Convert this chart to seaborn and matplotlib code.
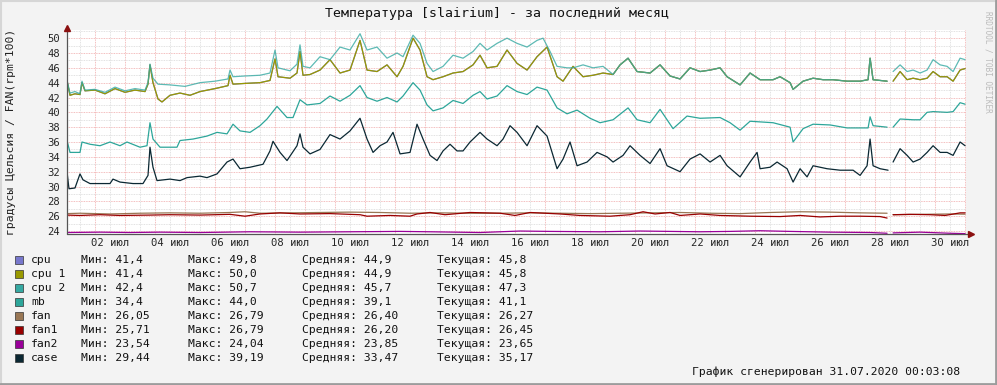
import numpy as np
import pandas as pd
import matplotlib
matplotlib.use("Agg")
import matplotlib.pyplot as plt
from matplotlib.patches import Rectangle
from matplotlib.lines import Line2D
import seaborn as sns

sns.set_theme(style="white")
plt.rcParams['font.family'] = ['DejaVu Sans Mono', 'DejaVu Sans']

# Data: (day of July, value); nan = gap in data
NAN = float('nan')

cpu2 = [(0.567, 44.3), (0.667, 42.6), (0.833, 42.8), (1.0, 42.5), (1.067, 44.2), (1.167, 43.0),
        (1.5, 43.1), (1.833, 42.7), (2.167, 43.4), (2.5, 42.9), (2.833, 43.2), (3.167, 43.0),
        (3.267, 44.0), (3.333, 46.5), (3.433, 44.6), (3.6, 43.8), (4.0, 43.7), (4.5, 43.5),
        (5.0, 44.0), (5.5, 44.2), (5.933, 44.5), (6.0, 45.7), (6.1, 44.8), (6.5, 44.9),
        (7.0, 45.0), (7.333, 45.3), (7.5, 48.4), (7.6, 46.0), (8.0, 45.6), (8.233, 46.5),
        (8.333, 49.1), (8.433, 46.2), (8.667, 46.0), (9.0, 47.5), (9.333, 47.1), (9.667, 48.8),
        (10.0, 48.4), (10.333, 50.6), (10.567, 48.4), (10.9, 48.8), (11.233, 47.3), (11.567, 48.0),
        (11.767, 47.5), (12.1, 50.4), (12.333, 49.3), (12.567, 46.6), (12.767, 45.5), (13.1, 46.2),
        (13.433, 47.7), (13.767, 47.3), (14.1, 48.2), (14.333, 49.3), (14.567, 48.4), (14.9, 49.3),
        (15.233, 50.0), (15.567, 49.3), (15.9, 48.8), (16.233, 49.7), (16.433, 50.0), (16.667, 48.2),
        (16.9, 46.2), (17.233, 46.0), (17.433, 46.0), (17.767, 46.4), (18.1, 46.0), (18.433, 46.2),
        (18.767, 45.1), (19.0, 46.4), (19.267, 47.3), (19.567, 45.5), (20.0, 45.3), (20.333, 46.4),
        (20.667, 44.9), (21.0, 44.5), (21.333, 46.0), (21.667, 45.5), (22.0, 45.7), (22.333, 46.0),
        (22.567, 44.8), (23.0, 43.7), (23.333, 45.3), (23.667, 44.4), (24.1, 44.4), (24.333, 44.8),
        (24.667, 44.0), (24.767, 43.1), (25.1, 44.2), (25.433, 44.6), (25.767, 44.4), (26.1, 44.4),
        (26.567, 44.2), (27.0, 44.2), (27.267, 44.4), (27.333, 47.3), (27.433, 44.4), (27.9, 44.2),
        (28.0, NAN), (28.1, 45.5), (28.333, 46.4), (28.567, 45.5), (28.767, 45.7), (29.0, 45.3),
        (29.233, 45.7), (29.433, 47.1), (29.667, 46.4), (29.9, 46.2), (30.1, 45.5), (30.333, 47.3),
        (30.5, 47.1)]

cpu1 = [(0.567, 44.3), (0.667, 42.3), (0.833, 42.5), (1.0, 42.4), (1.067, 44.0), (1.167, 42.9),
        (1.5, 43.0), (1.833, 42.5), (2.167, 43.2), (2.5, 42.7), (2.833, 43.0), (3.167, 42.8),
        (3.267, 43.8), (3.333, 46.4), (3.433, 44.0), (3.6, 41.8), (3.733, 41.4), (4.0, 42.3),
        (4.333, 42.6), (4.667, 42.3), (5.0, 42.8), (5.5, 43.2), (5.933, 43.6), (6.0, 45.0),
        (6.1, 43.8), (6.5, 43.9), (7.0, 44.0), (7.333, 44.3), (7.5, 47.2), (7.6, 44.8),
        (8.0, 44.6), (8.233, 45.3), (8.333, 48.2), (8.433, 45.0), (8.667, 45.1), (9.0, 45.7),
        (9.333, 47.1), (9.667, 45.3), (10.0, 45.7), (10.333, 49.7), (10.567, 45.7), (10.9, 45.5),
        (11.233, 46.4), (11.567, 44.8), (11.767, 46.2), (12.1, 50.0), (12.333, 48.4), (12.567, 44.8),
        (12.767, 44.4), (13.1, 44.8), (13.433, 45.3), (13.767, 45.5), (14.1, 46.4), (14.333, 47.7),
        (14.567, 46.0), (14.9, 46.2), (15.233, 48.4), (15.567, 46.6), (15.9, 45.7), (16.233, 47.5),
        (16.567, 48.8), (16.9, 44.8), (17.1, 44.2), (17.433, 46.2), (17.767, 44.8), (18.1, 45.0),
        (18.433, 45.3), (18.767, 45.1), (19.0, 46.4), (19.267, 47.3), (19.567, 45.5), (20.0, 45.3),
        (20.333, 46.4), (20.667, 44.9), (21.0, 44.5), (21.333, 46.0), (21.667, 45.5), (22.0, 45.7),
        (22.333, 46.0), (22.567, 44.8), (23.0, 43.7), (23.333, 45.3), (23.667, 44.4), (24.1, 44.4),
        (24.333, 44.8), (24.667, 44.0), (24.767, 43.1), (25.1, 44.2), (25.433, 44.6), (25.767, 44.4),
        (26.1, 44.4), (26.567, 44.2), (27.0, 44.2), (27.267, 44.4), (27.333, 47.3), (27.433, 44.4),
        (27.9, 44.2), (28.0, NAN), (28.1, 44.2), (28.333, 45.5), (28.567, 44.4), (28.767, 44.6),
        (29.0, 44.4), (29.233, 44.6), (29.433, 45.5), (29.667, 44.8), (29.9, 44.8), (30.1, 44.2),
        (30.333, 45.7), (30.5, 45.9)]

# cpu has the same readings as cpu 1 (drawn underneath it)
cpu = cpu1

mb = [(0.567, 36.2), (0.667, 34.6), (1.0, 34.6), (1.067, 36.0), (1.333, 35.7), (1.667, 35.5),
      (2.0, 36.0), (2.333, 35.5), (2.567, 36.0), (3.0, 35.3), (3.233, 35.5), (3.333, 38.6),
      (3.433, 36.4), (3.667, 35.3), (4.233, 35.3), (4.333, 36.2), (4.767, 36.4), (5.233, 36.8),
      (5.567, 37.3), (5.9, 37.1), (6.1, 38.4), (6.333, 37.5), (6.667, 37.3), (7.0, 38.2),
      (7.233, 39.1), (7.567, 40.8), (7.9, 39.3), (8.1, 39.3), (8.333, 41.7), (8.567, 41.0),
      (9.0, 41.2), (9.333, 42.2), (9.667, 41.5), (10.0, 42.3), (10.333, 43.6), (10.567, 42.0),
      (10.9, 41.5), (11.233, 42.0), (11.567, 41.4), (11.767, 42.2), (12.1, 44.0), (12.333, 43.0),
      (12.567, 41.0), (12.767, 40.2), (13.1, 40.6), (13.433, 41.6), (13.767, 41.2), (14.1, 42.3),
      (14.333, 42.8), (14.567, 41.8), (14.9, 42.2), (15.233, 43.6), (15.567, 42.8), (15.9, 42.4),
      (16.233, 43.4), (16.567, 43.0), (16.9, 40.6), (17.233, 39.8), (17.567, 40.3), (18.0, 39.2),
      (18.333, 38.6), (18.767, 39.0), (19.267, 40.6), (19.567, 39.0), (20.0, 38.6), (20.333, 40.4),
      (20.767, 37.8), (21.233, 39.5), (21.667, 39.2), (22.333, 39.3), (22.667, 38.6), (23.0, 37.6),
      (23.333, 38.8), (24.1, 38.6), (24.667, 38.0), (24.767, 36.0), (25.1, 37.8), (25.433, 38.4),
      (26.0, 38.3), (26.567, 37.9), (27.0, 37.9), (27.267, 37.9), (27.333, 39.4), (27.433, 38.2),
      (27.9, 38.0), (28.0, NAN), (28.1, 38.0), (28.333, 39.1), (28.767, 39.0), (29.0, 39.0),
      (29.233, 40.0), (29.433, 40.1), (29.9, 40.0), (30.1, 40.1), (30.333, 41.3), (30.5, 41.1)]

case = [(0.567, 32.0), (0.633, 29.7), (0.833, 29.8), (1.0, 31.7), (1.1, 30.9), (1.333, 30.4),
        (1.667, 30.4), (2.0, 30.4), (2.1, 31.0), (2.333, 30.6), (2.767, 30.4), (3.1, 30.4),
        (3.267, 31.5), (3.333, 35.3), (3.433, 32.6), (3.567, 30.8), (4.0, 31.0), (4.333, 30.8),
        (4.567, 31.2), (5.0, 31.4), (5.233, 31.2), (5.567, 31.7), (5.9, 33.3), (6.1, 33.7),
        (6.333, 32.4), (6.667, 32.6), (7.1, 33.0), (7.333, 34.8), (7.433, 36.1), (7.667, 34.6),
        (7.9, 33.5), (8.233, 35.5), (8.333, 37.1), (8.433, 35.3), (8.667, 34.4), (9.0, 35.0),
        (9.333, 37.0), (9.667, 36.4), (10.0, 37.5), (10.333, 39.2), (10.567, 36.4), (10.767, 34.6),
        (11.0, 35.5), (11.233, 36.0), (11.433, 37.3), (11.667, 34.4), (12.0, 34.6), (12.233, 38.4),
        (12.433, 36.4), (12.667, 34.2), (12.9, 33.5), (13.1, 34.8), (13.333, 35.7), (13.567, 34.8),
        (13.767, 34.8), (14.0, 36.0), (14.333, 37.3), (14.567, 36.4), (14.9, 35.5), (15.1, 36.4),
        (15.333, 38.2), (15.567, 37.3), (15.9, 35.5), (16.233, 38.2), (16.567, 36.8), (16.9, 32.4),
        (17.1, 33.7), (17.333, 36.0), (17.567, 32.8), (17.9, 33.3), (18.233, 34.6), (18.567, 34.0),
        (18.767, 33.3), (19.1, 34.2), (19.333, 35.5), (19.667, 34.2), (20.0, 33.1), (20.333, 35.1),
        (20.567, 32.8), (21.0, 32.0), (21.333, 33.7), (21.667, 34.4), (22.0, 33.3), (22.333, 34.2),
        (22.567, 32.8), (23.0, 31.3), (23.333, 33.3), (23.567, 34.6), (23.667, 32.4), (24.0, 32.6),
        (24.233, 33.3), (24.567, 32.4), (24.767, 30.6), (25.0, 32.4), (25.233, 31.3), (25.433, 32.8),
        (25.9, 32.4), (26.333, 32.2), (26.767, 32.2), (27.0, 31.5), (27.233, 32.8), (27.333, 36.4),
        (27.433, 32.8), (27.667, 32.4), (27.933, 32.2), (28.0, NAN), (28.1, 33.3), (28.333, 35.1),
        (28.567, 34.2), (28.767, 33.3), (29.0, 33.7), (29.233, 34.6), (29.433, 35.5), (29.667, 34.6),
        (29.9, 34.6), (30.1, 34.2), (30.333, 36.0), (30.5, 35.5)]

fan = [(0.567, 26.35), (1.0, 26.4), (2.0, 26.3), (3.0, 26.4), (4.0, 26.45), (5.0, 26.4),
       (6.0, 26.5), (6.5, 26.6), (7.0, 26.4), (8.0, 26.45), (9.0, 26.5), (10.0, 26.55),
       (11.0, 26.5), (12.0, 26.4), (13.0, 26.45), (14.0, 26.4), (15.0, 26.4), (16.0, 26.45),
       (17.0, 26.4), (18.0, 26.35), (19.0, 26.4), (20.0, 26.45), (21.0, 26.5), (22.0, 26.4),
       (23.0, 26.35), (24.0, 26.5), (25.0, 26.6), (26.0, 26.55), (27.0, 26.45), (27.9, 26.4),
       (28.0, NAN), (28.1, 26.2), (29.0, 26.25), (30.0, 26.3), (30.5, 26.27)]

fan1 = [(0.567, 26.15), (1.0, 26.1), (1.667, 26.2), (2.333, 26.1), (3.333, 26.15), (4.0, 26.2),
        (5.0, 26.15), (6.0, 26.25), (6.5, 26.0), (7.0, 26.3), (7.667, 26.45), (8.333, 26.3),
        (9.333, 26.35), (10.333, 26.2), (10.567, 26.0), (11.333, 26.1), (12.0, 26.0), (12.233, 26.3),
        (12.667, 26.5), (13.167, 26.2), (14.0, 26.5), (15.0, 26.4), (15.5, 26.1), (16.0, 26.5),
        (17.0, 26.3), (17.667, 26.1), (18.667, 26.0), (19.333, 26.2), (19.767, 26.6), (20.167, 26.3),
        (20.667, 26.5), (21.0, 26.1), (21.667, 26.3), (22.333, 26.1), (23.333, 26.0), (24.333, 25.95),
        (25.0, 26.1), (25.667, 25.9), (26.333, 26.0), (27.0, 26.0), (27.667, 25.95), (27.9, 25.75),
        (28.0, NAN), (28.1, 26.2), (28.667, 26.25), (29.333, 26.2), (29.833, 26.1), (30.333, 26.45),
        (30.5, 26.45)]

fan2 = [(0.567, 23.8), (1.667, 23.85), (2.667, 23.8), (3.667, 23.85), (5.0, 23.8), (6.667, 23.9),
        (8.333, 23.85), (10.0, 23.9), (11.667, 23.95), (12.667, 23.9), (14.333, 23.8), (15.667, 24.0),
        (16.667, 23.95), (18.333, 23.9), (19.667, 24.0), (21.667, 23.9), (22.667, 23.95), (23.667, 24.04),
        (24.667, 23.95), (26.0, 23.85), (27.333, 23.8), (27.9, 23.7), (28.0, NAN), (28.1, 23.75),
        (29.0, 23.85), (30.0, 23.7), (30.5, 23.65)]

# legend table
names = ['cpu', 'cpu 1', 'cpu 2', 'mb', 'fan', 'fan1', 'fan2', 'case']
mins = ['41,4', '41,4', '42,4', '34,4', '26,05', '25,71', '23,54', '29,44']
maxs = ['49,8', '50,0', '50,7', '44,0', '26,79', '26,79', '24,04', '39,19']
avgs = ['44,9', '44,9', '45,7', '39,1', '26,40', '26,20', '23,85', '33,47']
curs = ['45,8', '45,8', '47,3', '41,1', '26,27', '26,45', '23,65', '35,17']
colors = ['#7777CC', '#999900', '#35A9A2', '#2DA69A', '#997755', '#990000', '#990099', '#0B2833']

day_ticks = list(range(2, 31, 2))
day_labels = ['%02d июл' % d for d in day_ticks]

W, H = 997, 385
def fx(x):
    return x / W
def fy(y):
    return 1 - y / H

fig = plt.figure(figsize=(W / 100, H / 100), dpi=100, facecolor='#F3F3F3')
ax = fig.add_axes([fx(67), fy(234), fx(966) - fx(67), fy(30) - fy(234)])
ax.set_facecolor('white')
ax.set_xlim(0.567, 30.53)
ax.set_ylim(23.6, 51.1)

# rrdtool style dotted grid
for d in np.arange(1, 31, 1.0):
    ax.axvline(d, color='#D8D8D8', lw=0.6, ls=(0, (1, 1)), zorder=0)
for d in np.arange(0.5, 31, 1.0):
    ax.axvline(d, color='#F0A8A8', lw=0.6, ls=(0, (1, 1)), zorder=0)
for v in range(25, 52, 2):
    ax.axhline(v, color='#D8D8D8', lw=0.6, ls=(0, (1, 1)), zorder=0)
for v in range(24, 52, 2):
    ax.axhline(v, color='#F0A8A8', lw=0.6, ls=(0, (1, 1)), zorder=0)


def draw(points, color, alpha=1.0):
    df = pd.DataFrame(points, columns=['t', 'v'])
    df['seg'] = df['v'].isna().cumsum()
    df = df.dropna()
    sns.lineplot(data=df, x='t', y='v', units='seg', estimator=None, sort=False,
                 color=color, lw=0.9, alpha=alpha, ax=ax, legend=False)


draw(fan2, colors[6])
draw(fan, colors[4])
draw(fan1, colors[5])
draw(case, colors[7])
draw(mb, colors[3])
draw(cpu, colors[0])
draw(cpu1, colors[1])
draw(cpu2, colors[2], alpha=0.8)

ax.set_xlabel('')
ax.set_ylabel('')
ax.set_xticks(day_ticks)
ax.set_xticklabels(day_labels, fontsize=7.6)
ax.set_yticks(range(24, 51, 2))
ax.set_yticklabels([str(v) for v in range(24, 51, 2)], fontsize=7.6)
ax.tick_params(axis='x', length=0, pad=3)
ax.tick_params(axis='y', length=0, pad=5)
for s in ax.spines.values():
    s.set_visible(False)

# axes with arrows
fig.add_artist(Line2D([fx(67), fx(67)], [fy(234), fy(29)], color='#555555', lw=0.9))
fig.add_artist(Line2D([fx(67), fx(970)], [fy(234), fy(234)], color='#555555', lw=0.9))
fig.add_artist(Line2D([fx(67)], [fy(28)], marker='^', ms=4, color='#8B1010', lw=0))
fig.add_artist(Line2D([fx(971)], [fy(234)], marker='>', ms=4, color='#8B1010', lw=0))

# texts
fig.text(fx(497), fy(14), 'Температура [slairium] - за последний месяц', fontsize=9.5,
         ha='center', va='center', color='#111111')
fig.text(fx(11), fy(132), 'градусы Цельсия / FAN(rpm*100)', fontsize=8.2, rotation=90,
         ha='center', va='center', color='#222222')
fig.text(fx(988), fy(62), 'RRDTOOL / TOBI OETIKER', fontsize=5.6, rotation=270,
         ha='center', va='center', color='#BBBBBB')
fig.text(fx(960), fy(372), 'График сгенерирован 31.07.2020 00:03:08', fontsize=8.2,
         ha='right', va='center', color='#111111')

for i, name in enumerate(names):
    y = 260 + 14 * i
    fig.add_artist(Rectangle((fx(15), fy(y + 4)), fx(8), 8 / H, transform=fig.transFigure,
                             facecolor=colors[i], edgecolor='#333333', lw=0.5))
    fig.text(fx(31), fy(y), name, fontsize=8.2, va='center', color='#111111')
    fig.text(fx(81), fy(y), 'Мин: ' + mins[i], fontsize=8.2, va='center', color='#111111')
    fig.text(fx(188), fy(y), 'Макс: ' + maxs[i], fontsize=8.2, va='center', color='#111111')
    fig.text(fx(302), fy(y), 'Средняя: ' + avgs[i], fontsize=8.2, va='center', color='#111111')
    fig.text(fx(437), fy(y), 'Текущая: ' + curs[i], fontsize=8.2, va='center', color='#111111')

# frame around the image
fig.add_artist(Line2D([0, 1], [fy(0.5), fy(0.5)], color='#D6D6D6', lw=1.5))
fig.add_artist(Line2D([fx(0.5), fx(0.5)], [0, 1], color='#D6D6D6', lw=1.5))
fig.add_artist(Line2D([0, 1], [fy(384), fy(384)], color='#9C9C9C', lw=2))
fig.add_artist(Line2D([fx(996), fx(996)], [0, 1], color='#9C9C9C', lw=2))

fig.savefig('out.png', dpi=100, facecolor=fig.get_facecolor())
